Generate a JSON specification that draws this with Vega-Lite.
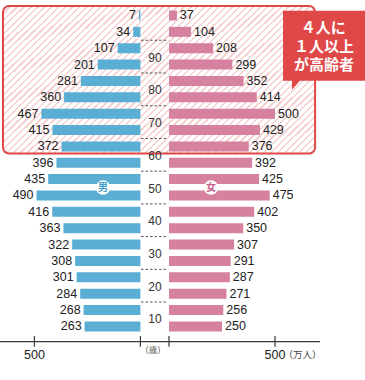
{
  "$schema": "https://vega.github.io/schema/vega-lite/v6.json",
  "width": 365,
  "height": 380,
  "autosize": "none",
  "padding": 0,
  "background": "white",
  "config": {"view": {"stroke": null}},
  "datasets": {
    "pop": [
      {"age": 100, "male": 7, "female": 37},
      {"age": 95, "male": 34, "female": 104},
      {"age": 90, "male": 107, "female": 208},
      {"age": 85, "male": 201, "female": 299},
      {"age": 80, "male": 281, "female": 352},
      {"age": 75, "male": 360, "female": 414},
      {"age": 70, "male": 467, "female": 500},
      {"age": 65, "male": 415, "female": 429},
      {"age": 60, "male": 372, "female": 376},
      {"age": 55, "male": 396, "female": 392},
      {"age": 50, "male": 435, "female": 425},
      {"age": 45, "male": 490, "female": 475},
      {"age": 40, "male": 416, "female": 402},
      {"age": 35, "male": 363, "female": 350},
      {"age": 30, "male": 322, "female": 307},
      {"age": 25, "male": 308, "female": 291},
      {"age": 20, "male": 301, "female": 287},
      {"age": 15, "male": 284, "female": 271},
      {"age": 10, "male": 268, "female": 256},
      {"age": 5, "male": 263, "female": 250}
    ],
    "ages": [
      {"age": 10}, {"age": 20}, {"age": 30}, {"age": 40}, {"age": 50},
      {"age": 60}, {"age": 70}, {"age": 80}, {"age": 90}
    ],
    "dashes": [
      {"age": 15}, {"age": 25}, {"age": 35}, {"age": 45}, {"age": 55},
      {"age": 65}, {"age": 75}, {"age": 85}, {"age": 95}
    ],
    "ticks": [{"t": 0}, {"t": 500}]
  },
  "layer": [
    {
      "layer": [
        {
          "data": {"values": [{}]},
          "mark": {"type": "rect", "cornerRadius": 6, "stroke": "#e04848", "strokeWidth": 2,
            "fill": {"gradient": "linear", "x1": 0, "y1": 0, "x2": 1.2022, "y2": 0.5838, "stops": [
{"offset":0,"color":"#f6d3d3"},{"offset":0.005,"color":"#f6d3d3"},{"offset":0.005,"color":"#ffffff"},{"offset":0.015,"color":"#ffffff"},
{"offset":0.015,"color":"#f6d3d3"},{"offset":0.02,"color":"#f6d3d3"},{"offset":0.02,"color":"#ffffff"},{"offset":0.03,"color":"#ffffff"},
{"offset":0.03,"color":"#f6d3d3"},{"offset":0.035,"color":"#f6d3d3"},{"offset":0.035,"color":"#ffffff"},{"offset":0.045,"color":"#ffffff"},
{"offset":0.045,"color":"#f6d3d3"},{"offset":0.05,"color":"#f6d3d3"},{"offset":0.05,"color":"#ffffff"},{"offset":0.06,"color":"#ffffff"},
{"offset":0.06,"color":"#f6d3d3"},{"offset":0.065,"color":"#f6d3d3"},{"offset":0.065,"color":"#ffffff"},{"offset":0.075,"color":"#ffffff"},
{"offset":0.075,"color":"#f6d3d3"},{"offset":0.08,"color":"#f6d3d3"},{"offset":0.08,"color":"#ffffff"},{"offset":0.09,"color":"#ffffff"},
{"offset":0.09,"color":"#f6d3d3"},{"offset":0.095,"color":"#f6d3d3"},{"offset":0.095,"color":"#ffffff"},{"offset":0.105,"color":"#ffffff"},
{"offset":0.105,"color":"#f6d3d3"},{"offset":0.11,"color":"#f6d3d3"},{"offset":0.11,"color":"#ffffff"},{"offset":0.12,"color":"#ffffff"},
{"offset":0.12,"color":"#f6d3d3"},{"offset":0.125,"color":"#f6d3d3"},{"offset":0.125,"color":"#ffffff"},{"offset":0.135,"color":"#ffffff"},
{"offset":0.135,"color":"#f6d3d3"},{"offset":0.14,"color":"#f6d3d3"},{"offset":0.14,"color":"#ffffff"},{"offset":0.15,"color":"#ffffff"},
{"offset":0.15,"color":"#f6d3d3"},{"offset":0.155,"color":"#f6d3d3"},{"offset":0.155,"color":"#ffffff"},{"offset":0.165,"color":"#ffffff"},
{"offset":0.165,"color":"#f6d3d3"},{"offset":0.17,"color":"#f6d3d3"},{"offset":0.17,"color":"#ffffff"},{"offset":0.18,"color":"#ffffff"},
{"offset":0.18,"color":"#f6d3d3"},{"offset":0.185,"color":"#f6d3d3"},{"offset":0.185,"color":"#ffffff"},{"offset":0.195,"color":"#ffffff"},
{"offset":0.195,"color":"#f6d3d3"},{"offset":0.2,"color":"#f6d3d3"},{"offset":0.2,"color":"#ffffff"},{"offset":0.21,"color":"#ffffff"},
{"offset":0.21,"color":"#f6d3d3"},{"offset":0.215,"color":"#f6d3d3"},{"offset":0.215,"color":"#ffffff"},{"offset":0.225,"color":"#ffffff"},
{"offset":0.225,"color":"#f6d3d3"},{"offset":0.23,"color":"#f6d3d3"},{"offset":0.23,"color":"#ffffff"},{"offset":0.24,"color":"#ffffff"},
{"offset":0.24,"color":"#f6d3d3"},{"offset":0.245,"color":"#f6d3d3"},{"offset":0.245,"color":"#ffffff"},{"offset":0.255,"color":"#ffffff"},
{"offset":0.255,"color":"#f6d3d3"},{"offset":0.26,"color":"#f6d3d3"},{"offset":0.26,"color":"#ffffff"},{"offset":0.27,"color":"#ffffff"},
{"offset":0.27,"color":"#f6d3d3"},{"offset":0.275,"color":"#f6d3d3"},{"offset":0.275,"color":"#ffffff"},{"offset":0.285,"color":"#ffffff"},
{"offset":0.285,"color":"#f6d3d3"},{"offset":0.29,"color":"#f6d3d3"},{"offset":0.29,"color":"#ffffff"},{"offset":0.3,"color":"#ffffff"},
{"offset":0.3,"color":"#f6d3d3"},{"offset":0.305,"color":"#f6d3d3"},{"offset":0.305,"color":"#ffffff"},{"offset":0.315,"color":"#ffffff"},
{"offset":0.315,"color":"#f6d3d3"},{"offset":0.32,"color":"#f6d3d3"},{"offset":0.32,"color":"#ffffff"},{"offset":0.33,"color":"#ffffff"},
{"offset":0.33,"color":"#f6d3d3"},{"offset":0.335,"color":"#f6d3d3"},{"offset":0.335,"color":"#ffffff"},{"offset":0.345,"color":"#ffffff"},
{"offset":0.345,"color":"#f6d3d3"},{"offset":0.35,"color":"#f6d3d3"},{"offset":0.35,"color":"#ffffff"},{"offset":0.36,"color":"#ffffff"},
{"offset":0.36,"color":"#f6d3d3"},{"offset":0.365,"color":"#f6d3d3"},{"offset":0.365,"color":"#ffffff"},{"offset":0.375,"color":"#ffffff"},
{"offset":0.375,"color":"#f6d3d3"},{"offset":0.38,"color":"#f6d3d3"},{"offset":0.38,"color":"#ffffff"},{"offset":0.39,"color":"#ffffff"},
{"offset":0.39,"color":"#f6d3d3"},{"offset":0.395,"color":"#f6d3d3"},{"offset":0.395,"color":"#ffffff"},{"offset":0.405,"color":"#ffffff"},
{"offset":0.405,"color":"#f6d3d3"},{"offset":0.41,"color":"#f6d3d3"},{"offset":0.41,"color":"#ffffff"},{"offset":0.42,"color":"#ffffff"},
{"offset":0.42,"color":"#f6d3d3"},{"offset":0.425,"color":"#f6d3d3"},{"offset":0.425,"color":"#ffffff"},{"offset":0.435,"color":"#ffffff"},
{"offset":0.435,"color":"#f6d3d3"},{"offset":0.44,"color":"#f6d3d3"},{"offset":0.44,"color":"#ffffff"},{"offset":0.45,"color":"#ffffff"},
{"offset":0.45,"color":"#f6d3d3"},{"offset":0.455,"color":"#f6d3d3"},{"offset":0.455,"color":"#ffffff"},{"offset":0.465,"color":"#ffffff"},
{"offset":0.465,"color":"#f6d3d3"},{"offset":0.47,"color":"#f6d3d3"},{"offset":0.47,"color":"#ffffff"},{"offset":0.48,"color":"#ffffff"},
{"offset":0.48,"color":"#f6d3d3"},{"offset":0.485,"color":"#f6d3d3"},{"offset":0.485,"color":"#ffffff"},{"offset":0.495,"color":"#ffffff"},
{"offset":0.495,"color":"#f6d3d3"},{"offset":0.5,"color":"#f6d3d3"},{"offset":0.5,"color":"#ffffff"},{"offset":0.51,"color":"#ffffff"},
{"offset":0.51,"color":"#f6d3d3"},{"offset":0.515,"color":"#f6d3d3"},{"offset":0.515,"color":"#ffffff"},{"offset":0.525,"color":"#ffffff"},
{"offset":0.525,"color":"#f6d3d3"},{"offset":0.53,"color":"#f6d3d3"},{"offset":0.53,"color":"#ffffff"},{"offset":0.54,"color":"#ffffff"},
{"offset":0.54,"color":"#f6d3d3"},{"offset":0.545,"color":"#f6d3d3"},{"offset":0.545,"color":"#ffffff"},{"offset":0.555,"color":"#ffffff"},
{"offset":0.555,"color":"#f6d3d3"},{"offset":0.56,"color":"#f6d3d3"},{"offset":0.56,"color":"#ffffff"},{"offset":0.57,"color":"#ffffff"},
{"offset":0.57,"color":"#f6d3d3"},{"offset":0.575,"color":"#f6d3d3"},{"offset":0.575,"color":"#ffffff"},{"offset":0.585,"color":"#ffffff"},
{"offset":0.585,"color":"#f6d3d3"},{"offset":0.59,"color":"#f6d3d3"},{"offset":0.59,"color":"#ffffff"},{"offset":0.6,"color":"#ffffff"},
{"offset":0.6,"color":"#f6d3d3"},{"offset":0.605,"color":"#f6d3d3"},{"offset":0.605,"color":"#ffffff"},{"offset":0.615,"color":"#ffffff"},
{"offset":0.615,"color":"#f6d3d3"},{"offset":0.62,"color":"#f6d3d3"},{"offset":0.62,"color":"#ffffff"},{"offset":0.63,"color":"#ffffff"},
{"offset":0.63,"color":"#f6d3d3"},{"offset":0.635,"color":"#f6d3d3"},{"offset":0.635,"color":"#ffffff"},{"offset":0.645,"color":"#ffffff"},
{"offset":0.645,"color":"#f6d3d3"},{"offset":0.65,"color":"#f6d3d3"},{"offset":0.65,"color":"#ffffff"},{"offset":0.66,"color":"#ffffff"},
{"offset":0.66,"color":"#f6d3d3"},{"offset":0.665,"color":"#f6d3d3"},{"offset":0.665,"color":"#ffffff"},{"offset":0.675,"color":"#ffffff"},
{"offset":0.675,"color":"#f6d3d3"},{"offset":0.68,"color":"#f6d3d3"},{"offset":0.68,"color":"#ffffff"},{"offset":0.69,"color":"#ffffff"},
{"offset":0.69,"color":"#f6d3d3"},{"offset":0.695,"color":"#f6d3d3"},{"offset":0.695,"color":"#ffffff"},{"offset":0.705,"color":"#ffffff"},
{"offset":0.705,"color":"#f6d3d3"},{"offset":0.71,"color":"#f6d3d3"},{"offset":0.71,"color":"#ffffff"},{"offset":0.72,"color":"#ffffff"},
{"offset":0.72,"color":"#f6d3d3"},{"offset":0.725,"color":"#f6d3d3"},{"offset":0.725,"color":"#ffffff"},{"offset":0.735,"color":"#ffffff"},
{"offset":0.735,"color":"#f6d3d3"},{"offset":0.74,"color":"#f6d3d3"},{"offset":0.74,"color":"#ffffff"},{"offset":0.75,"color":"#ffffff"},
{"offset":0.75,"color":"#f6d3d3"},{"offset":0.755,"color":"#f6d3d3"},{"offset":0.755,"color":"#ffffff"},{"offset":0.765,"color":"#ffffff"},
{"offset":0.765,"color":"#f6d3d3"},{"offset":0.77,"color":"#f6d3d3"},{"offset":0.77,"color":"#ffffff"},{"offset":0.78,"color":"#ffffff"},
{"offset":0.78,"color":"#f6d3d3"},{"offset":0.785,"color":"#f6d3d3"},{"offset":0.785,"color":"#ffffff"},{"offset":0.795,"color":"#ffffff"},
{"offset":0.795,"color":"#f6d3d3"},{"offset":0.8,"color":"#f6d3d3"},{"offset":0.8,"color":"#ffffff"},{"offset":0.81,"color":"#ffffff"},
{"offset":0.81,"color":"#f6d3d3"},{"offset":0.815,"color":"#f6d3d3"},{"offset":0.815,"color":"#ffffff"},{"offset":0.825,"color":"#ffffff"},
{"offset":0.825,"color":"#f6d3d3"},{"offset":0.83,"color":"#f6d3d3"},{"offset":0.83,"color":"#ffffff"},{"offset":0.84,"color":"#ffffff"},
{"offset":0.84,"color":"#f6d3d3"},{"offset":0.845,"color":"#f6d3d3"},{"offset":0.845,"color":"#ffffff"},{"offset":0.855,"color":"#ffffff"},
{"offset":0.855,"color":"#f6d3d3"},{"offset":0.86,"color":"#f6d3d3"},{"offset":0.86,"color":"#ffffff"},{"offset":0.87,"color":"#ffffff"},
{"offset":0.87,"color":"#f6d3d3"},{"offset":0.875,"color":"#f6d3d3"},{"offset":0.875,"color":"#ffffff"},{"offset":0.885,"color":"#ffffff"},
{"offset":0.885,"color":"#f6d3d3"},{"offset":0.89,"color":"#f6d3d3"},{"offset":0.89,"color":"#ffffff"},{"offset":0.9,"color":"#ffffff"},
{"offset":0.9,"color":"#f6d3d3"},{"offset":0.905,"color":"#f6d3d3"},{"offset":0.905,"color":"#ffffff"},{"offset":0.915,"color":"#ffffff"},
{"offset":0.915,"color":"#f6d3d3"},{"offset":0.92,"color":"#f6d3d3"},{"offset":0.92,"color":"#ffffff"},{"offset":0.93,"color":"#ffffff"},
{"offset":0.93,"color":"#f6d3d3"},{"offset":0.935,"color":"#f6d3d3"},{"offset":0.935,"color":"#ffffff"},{"offset":0.945,"color":"#ffffff"},
{"offset":0.945,"color":"#f6d3d3"},{"offset":0.95,"color":"#f6d3d3"},{"offset":0.95,"color":"#ffffff"},{"offset":0.96,"color":"#ffffff"},
{"offset":0.96,"color":"#f6d3d3"},{"offset":0.965,"color":"#f6d3d3"},{"offset":0.965,"color":"#ffffff"},{"offset":0.975,"color":"#ffffff"},
{"offset":0.975,"color":"#f6d3d3"},{"offset":0.98,"color":"#f6d3d3"},{"offset":0.98,"color":"#ffffff"},{"offset":0.99,"color":"#ffffff"},
{"offset":0.99,"color":"#f6d3d3"},{"offset":0.995,"color":"#f6d3d3"},{"offset":0.995,"color":"#ffffff"},{"offset":1,"color":"#ffffff"}
            ]}},
          "encoding": {
            "x": {"datum": -783, "type": "quantitative", "scale": {"domain": [-797.17, 924.53], "nice": false, "zero": false}, "axis": null},
            "x2": {"datum": 689},
            "y": {"datum": 105.47, "type": "quantitative", "scale": {"domain": [-7.29, 105.77], "nice": false, "zero": false}, "axis": null},
            "y2": {"datum": 60.4}
          }
        }
      ]
    },
    {
      "layer": [
        {
          "data": {"name": "pop"},
          "mark": {"type": "bar", "height": 10, "yOffset": -8.4, "color": "#5aaed4"},
          "encoding": {
            "x": {"field": "male", "type": "quantitative", "scale": {"domain": [-1059.4, 662.3], "reverse": true, "nice": false, "zero": false}, "axis": null},
            "x2": {"datum": 0},
            "y": {"field": "age", "type": "quantitative", "scale": {"domain": [-7.29, 105.77], "nice": false, "zero": false}, "axis": null}
          }
        },
        {
          "data": {"name": "pop"},
          "mark": {"type": "text", "align": "right", "baseline": "middle", "dx": -3, "yOffset": -8.4, "font": "Liberation Sans", "fontSize": 12.5, "color": "#222222"},
          "encoding": {
            "x": {"field": "male", "type": "quantitative"},
            "y": {"field": "age", "type": "quantitative"},
            "text": {"field": "male", "type": "quantitative"}
          }
        },
        {
          "data": {"name": "ticks"},
          "mark": {"type": "rule", "color": "#3d3535", "strokeWidth": 1.2},
          "encoding": {
            "x": {"field": "t", "type": "quantitative"},
            "y": {"datum": 4.61, "type": "quantitative"},
            "y2": {"datum": 1.34}
          }
        },
        {
          "data": {"values": [{}]},
          "mark": {"type": "text", "align": "center", "baseline": "middle", "font": "Liberation Sans", "fontSize": 12.5, "color": "#222222", "text": "500"},
          "encoding": {
            "x": {"datum": 500, "type": "quantitative"},
            "y": {"datum": -1.04, "type": "quantitative"}
          }
        },
        {
          "data": {"values": [{}]},
          "mark": {"type": "point", "shape": "circle", "filled": true, "fill": "white", "opacity": 1, "size": 210, "strokeWidth": 0},
          "encoding": {
            "x": {"datum": 176, "type": "quantitative"},
            "y": {"datum": 50, "type": "quantitative"}
          }
        },
        {
          "data": {"values": [{}]},
          "mark": {"type": "text", "align": "center", "baseline": "middle", "font": "Noto Sans CJK JP", "fontWeight": "bold", "fontSize": 10, "color": "#3f9cc8", "text": "男"},
          "encoding": {
            "x": {"datum": 176, "type": "quantitative"},
            "y": {"datum": 50, "type": "quantitative"}
          }
        }
      ]
    },
    {
      "layer": [
        {
          "data": {"name": "pop"},
          "mark": {"type": "bar", "height": 10, "yOffset": -8.4, "color": "#d5819f"},
          "encoding": {
            "x": {"field": "female", "type": "quantitative", "scale": {"domain": [-797.17, 924.53], "nice": false, "zero": false}, "axis": null},
            "x2": {"datum": 0},
            "y": {"field": "age", "type": "quantitative", "scale": {"domain": [-7.29, 105.77], "nice": false, "zero": false}, "axis": null}
          }
        },
        {
          "data": {"name": "pop"},
          "mark": {"type": "text", "align": "left", "baseline": "middle", "dx": 3, "yOffset": -8.4, "font": "Liberation Sans", "fontSize": 12.5, "color": "#222222"},
          "encoding": {
            "x": {"field": "female", "type": "quantitative"},
            "y": {"field": "age", "type": "quantitative"},
            "text": {"field": "female", "type": "quantitative"}
          }
        },
        {
          "data": {"name": "dashes"},
          "mark": {"type": "rule", "color": "#555555", "strokeWidth": 1, "strokeDash": [2.5, 2]},
          "encoding": {
            "x": {"datum": -132, "type": "quantitative"},
            "x2": {"datum": -4},
            "y": {"field": "age", "type": "quantitative"}
          }
        },
        {
          "data": {"name": "ages"},
          "mark": {"type": "text", "align": "center", "baseline": "middle", "dy": 1, "font": "Liberation Sans", "fontSize": 12, "color": "#333333"},
          "encoding": {
            "x": {"datum": -66, "type": "quantitative"},
            "y": {"field": "age", "type": "quantitative"},
            "text": {"field": "age", "type": "quantitative"}
          }
        },
        {
          "data": {"values": [{}]},
          "mark": {"type": "rule", "color": "#3d3535", "strokeWidth": 1.3},
          "encoding": {
            "x": {"datum": -797.17, "type": "quantitative"},
            "x2": {"datum": 712.3},
            "y": {"datum": 2.92, "type": "quantitative"}
          }
        },
        {
          "data": {"name": "ticks"},
          "mark": {"type": "rule", "color": "#3d3535", "strokeWidth": 1.2},
          "encoding": {
            "x": {"field": "t", "type": "quantitative"},
            "y": {"datum": 4.61, "type": "quantitative"},
            "y2": {"datum": 1.34}
          }
        },
        {
          "data": {"values": [{}]},
          "mark": {"type": "text", "align": "center", "baseline": "middle", "font": "Liberation Sans", "fontSize": 12.5, "color": "#222222", "text": "500"},
          "encoding": {
            "x": {"datum": 500, "type": "quantitative"},
            "y": {"datum": -1.04, "type": "quantitative"}
          }
        },
        {
          "data": {"values": [{}]},
          "mark": {"type": "text", "align": "left", "baseline": "middle", "font": "Noto Sans CJK JP", "fontSize": 9.5, "color": "#444444", "text": "（万人）"},
          "encoding": {
            "x": {"datum": 540, "type": "quantitative"},
            "y": {"datum": -1.04, "type": "quantitative"}
          }
        },
        {
          "data": {"values": [{}]},
          "mark": {"type": "text", "align": "center", "baseline": "middle", "font": "Noto Sans CJK JP", "fontSize": 8.5, "color": "#555555", "text": "（歳）"},
          "encoding": {
            "x": {"datum": -75, "type": "quantitative"},
            "y": {"datum": 0.45, "type": "quantitative"}
          }
        },
        {
          "data": {"values": [{}]},
          "mark": {"type": "point", "shape": "circle", "filled": true, "fill": "white", "opacity": 1, "size": 210, "strokeWidth": 0},
          "encoding": {
            "x": {"datum": 198, "type": "quantitative"},
            "y": {"datum": 50, "type": "quantitative"}
          }
        },
        {
          "data": {"values": [{}]},
          "mark": {"type": "text", "align": "center", "baseline": "middle", "font": "Noto Sans CJK JP", "fontWeight": "bold", "fontSize": 10, "color": "#c8608a", "text": "女"},
          "encoding": {
            "x": {"datum": 198, "type": "quantitative"},
            "y": {"datum": 50, "type": "quantitative"}
          }
        },
        {
          "data": {"values": [{}]},
          "mark": {"type": "rect", "color": "#e04848"},
          "encoding": {
            "x": {"datum": 537.7, "type": "quantitative"},
            "x2": {"datum": 924.53},
            "y": {"datum": 103.99, "type": "quantitative"},
            "y2": {"datum": 82.65}
          }
        },
        {
          "data": {"values": [{}]},
          "mark": {"type": "point", "shape": "M-1,-1.3 L0.78,-1.3 L0.78,-1 L-1,1.07 Z", "filled": true, "color": "#e04848", "opacity": 1, "size": 81, "strokeWidth": 0},
          "encoding": {
            "x": {"datum": 601.4, "type": "quantitative"},
            "y": {"datum": 81.32, "type": "quantitative"}
          }
        },
        {
          "data": {"values": [{}]},
          "mark": {"type": "text", "align": "center", "baseline": "middle", "font": "Noto Sans CJK JP", "fontWeight": "bold", "fontSize": 15, "color": "white", "text": "４人に"},
          "encoding": {
            "x": {"datum": 728, "type": "quantitative"},
            "y": {"datum": 98.63, "type": "quantitative"}
          }
        },
        {
          "data": {"values": [{}]},
          "mark": {"type": "text", "align": "center", "baseline": "middle", "font": "Noto Sans CJK JP", "fontWeight": "bold", "fontSize": 15, "color": "white", "text": "１人以上"},
          "encoding": {
            "x": {"datum": 731, "type": "quantitative"},
            "y": {"datum": 93.07, "type": "quantitative"}
          }
        },
        {
          "data": {"values": [{}]},
          "mark": {"type": "text", "align": "center", "baseline": "middle", "font": "Noto Sans CJK JP", "fontWeight": "bold", "fontSize": 15, "color": "white", "text": "が高齢者"},
          "encoding": {
            "x": {"datum": 731, "type": "quantitative"},
            "y": {"datum": 87.41, "type": "quantitative"}
          }
        }
      ]
    }
  ],
  "resolve": {"scale": {"x": "independent"}}
}
